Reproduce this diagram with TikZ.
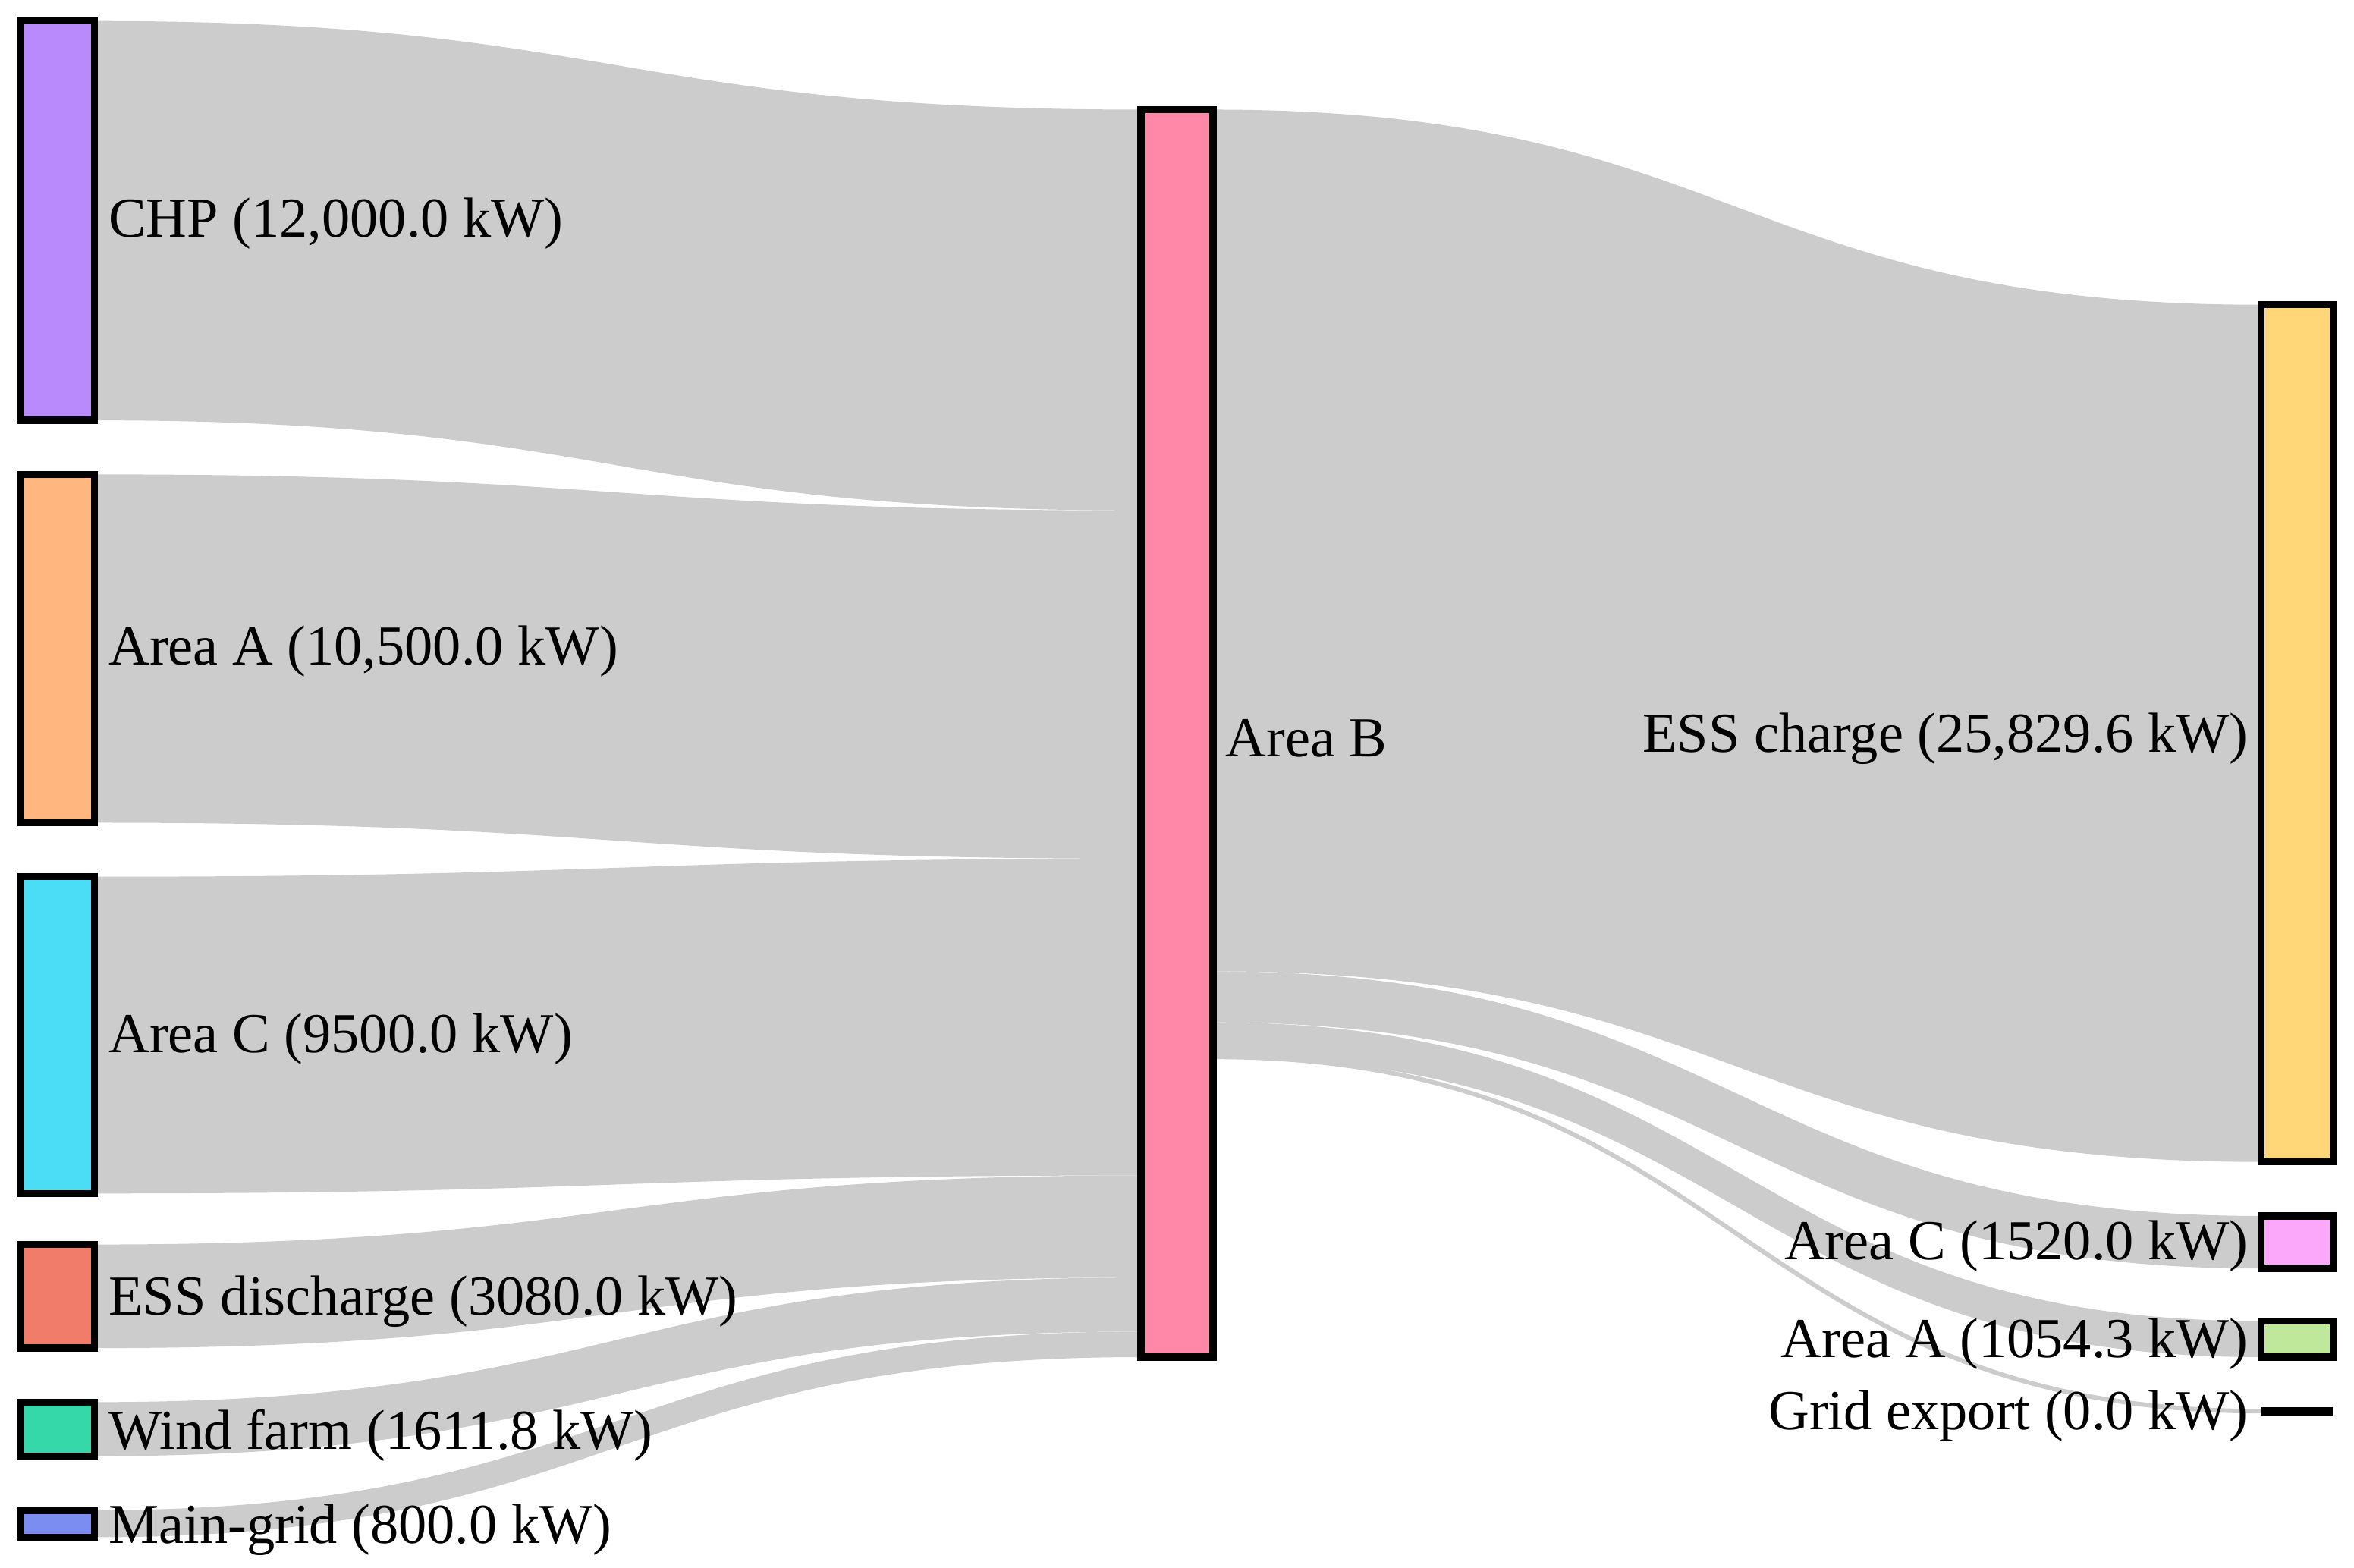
\documentclass[tikz,border=0pt]{standalone}
\usepackage{fontspec}
\setmainfont{Liberation Serif}
\definecolor{flow}{HTML}{CCCCCC}
\definecolor{cchp}{HTML}{B98AFB}
\definecolor{caa}{HTML}{FFB77F}
\definecolor{cac}{HTML}{4ADDF5}
\definecolor{cessd}{HTML}{F27C6A}
\definecolor{cwind}{HTML}{35D8A8}
\definecolor{cmain}{HTML}{7B8DF0}
\definecolor{cab}{HTML}{FF88A8}
\definecolor{cessc}{HTML}{FFD779}
\definecolor{cac2}{HTML}{FBA8FB}
\definecolor{caa2}{HTML}{C0E89A}
\begin{document}
\begin{tikzpicture}[x=0.5pt,y=-0.5pt,
  bar/.style={draw=black,line width=2.4pt},
  lbl/.style={font=\fontsize{18.8}{22}\selectfont,inner sep=0pt}]
\useasboundingbox (0,0) rectangle (1568,1044);
% flows left
\foreach \a/\b/\c/\d in {14/280/73/340, 316/548/340/572, 584/795/572/783, 829/898/783/851, 934/970/851/887, 1006/1024/887/904}{
  \fill[flow] (63,\a) .. controls (411,\a) and (411,\c) .. (760,\c) -- (760,\d) .. controls (411,\d) and (411,\b) .. (63,\b) -- cycle;
}
% flows right
\foreach \a/\b/\c/\d in {73/647/203/774, 647/681/810/845, 681/704/880/904}{
  \fill[flow] (808,\a) .. controls (1157,\a) and (1157,\c) .. (1506,\c) -- (1506,\d) .. controls (1157,\d) and (1157,\b) .. (808,\b) -- cycle;
}
\draw[flow,line width=1.5pt] (808,704) .. controls (1157,704) and (1157,940) .. (1506,940);
% bars
\draw[bar,fill=cchp] (14,14) rectangle (63,280) node[midway] (chp) {};
\draw[bar,fill=caa] (14,316) rectangle (63,548) node[midway] (aa) {};
\draw[bar,fill=cac] (14,584) rectangle (63,795) node[midway] (ac) {};
\draw[bar,fill=cessd] (14,829) rectangle (63,898) node[midway] (essd) {};
\draw[bar,fill=cwind] (14,934) rectangle (63,970) node[midway] (wind) {};
\draw[bar,fill=cmain] (14,1006) rectangle (63,1024) node[midway] (mg) {};
\draw[bar,fill=cab] (760,73) rectangle (808,904) node[midway] (ab) {};
\draw[bar,fill=cessc] (1506,203) rectangle (1554,774) node[midway] (essc) {};
\draw[bar,fill=cac2] (1506,810) rectangle (1554,845) node[midway] (ac2) {};
\draw[bar,fill=caa2] (1506,880) rectangle (1554,904) node[midway] (aa2) {};
\draw[line width=2.8pt] (1506,940) -- (1554,940);
% labels
\node[lbl,anchor=west] at (72,149) {CHP (12,000.0 kW)};
\node[lbl,anchor=west] at (72,434) {Area A (10,500.0 kW)};
\node[lbl,anchor=west] at (72,692) {Area C (9500.0 kW)};
\node[lbl,anchor=west] at (72,867) {ESS discharge (3080.0 kW)};
\node[lbl,anchor=west] at (72,956) {Wind farm (1611.8 kW)};
\node[lbl,anchor=west] at (72,1019) {Main-grid (800.0 kW)};
\node[lbl,anchor=west] at (816,492) {Area B};
\node[lbl,anchor=east] at (1498,492) {ESS charge (25,829.6 kW)};
\node[lbl,anchor=east] at (1498,830) {Area C (1520.0 kW)};
\node[lbl,anchor=east] at (1498,895) {Area A (1054.3 kW)};
\node[lbl,anchor=east] at (1498,943) {Grid export (0.0 kW)};
\end{tikzpicture}
\end{document}
